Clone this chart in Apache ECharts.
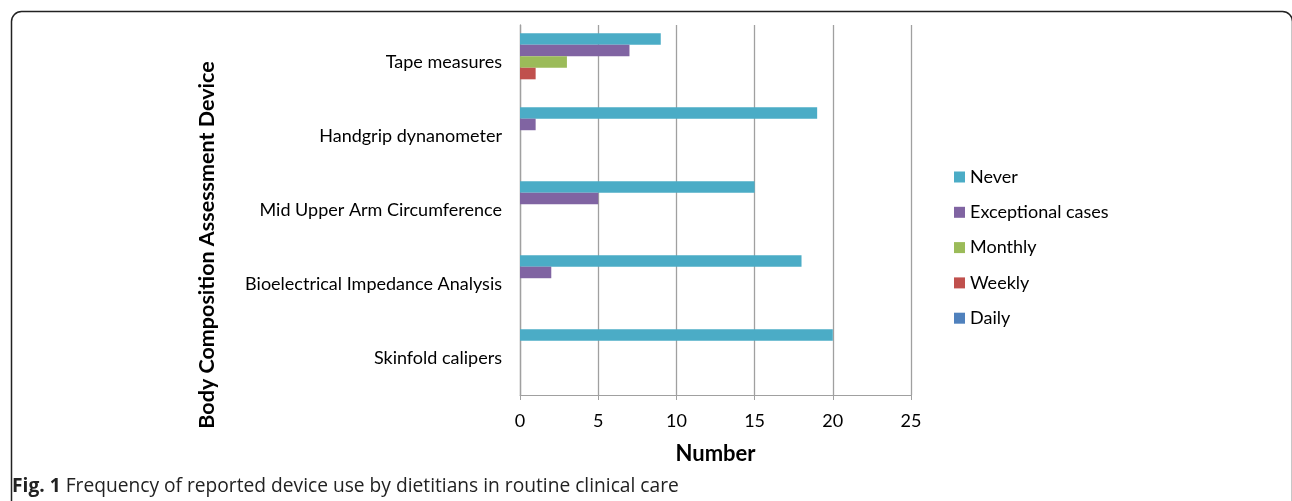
<!DOCTYPE html>
<html><head><meta charset="utf-8">
<script src="https://cdn.jsdelivr.net/npm/echarts@6/dist/echarts.min.js"></script>
<style>html,body{margin:0;padding:0;background:#fff;}#c{width:1292px;height:501px;}</style>
</head><body><div id="c"></div>
<script>
const categories = ['Tape measures', 'Handgrip dynanometer', 'Mid Upper Arm Circumference', 'Bioelectrical Impedance Analysis', 'Skinfold calipers'];
const seriesNames = ['Never', 'Exceptional cases', 'Monthly', 'Weekly', 'Daily'];
const never = [9, 19, 15, 18, 20];
const exceptional = [7, 1, 5, 2, 0];
const monthly = [3, 0, 0, 0, 0];
const weekly = [1, 0, 0, 0, 0];
const daily = [0, 0, 0, 0, 0];
const xTicks = [0, 5, 10, 15, 20, 25];
const yTitle = 'Body Composition Assessment Device';
const xTitle = 'Number';
const caption = 'Frequency of reported device use by dietitians in routine clinical care';
const colors = ['#4BACC6', '#8064A2', '#9BBB59', '#C0504D', '#4F81BD'];
const values = [never, exceptional, monthly, weekly, daily];

const chart = echarts.init(document.getElementById('c'));
const font = 'Lato, "Open Sans", sans-serif';
chart.setOption({
  animation: false,
  color: colors,
  grid: { left: 520, right: 381, top: 25, bottom: 106, containLabel: false },
  legend: {
    orient: 'vertical', left: 949, top: 162, itemGap: 15.3, itemWidth: 11, itemHeight: 11,
    icon: 'rect', data: seriesNames,
    textStyle: { fontFamily: font, fontSize: 18, lineHeight: 20, color: '#000', padding: [0, 0, 0, 0] }
  },
  xAxis: {
    type: 'value', min: xTicks[0], max: xTicks[xTicks.length - 1], interval: 5,
    name: xTitle, nameLocation: 'middle', nameGap: 48,
    nameTextStyle: { fontFamily: font, fontSize: 22, fontWeight: 'bold', color: '#000' },
    axisLine: { show: true, lineStyle: { color: '#a0a0a0', width: 1 } },
    axisTick: { show: true, length: 5, lineStyle: { color: '#a0a0a0' } },
    axisLabel: { fontFamily: font, fontSize: 18, color: '#000', margin: 17 },
    splitLine: { show: true, lineStyle: { color: '#a0a0a0', width: 1.3 } }
  },
  yAxis: {
    type: 'category', data: categories, inverse: true,
    axisLine: { show: true, lineStyle: { color: '#a0a0a0', width: 1.3 } },
    axisTick: { show: false },
    axisLabel: { fontFamily: font, fontSize: 18, color: '#000', margin: 18 }
  },
  series: seriesNames.map((n, i) => ({
    name: n, type: 'bar', data: values[i], barCategoryGap: '22%', barGap: '0%'
  })),
  graphic: [
    { type: 'rect', left: 9, top: 9, shape: { width: 1281, height: 620, r: 10 },
      style: { fill: 'none', stroke: '#222', lineWidth: 1.5 }, silent: true },
    { type: 'text', x: 207, y: 245, rotation: Math.PI / 2,
      style: { text: yTitle, fontFamily: font, fontSize: 21.5, fontWeight: 'bold', fill: '#000',
        align: 'center', verticalAlign: 'middle' } },
    { type: 'text', left: 12, top: 477,
      style: { text: '{b|Fig. 1} ' + caption,
        rich: { b: { fontWeight: 'bold', fontFamily: '"Open Sans", sans-serif', fontSize: 19.2, fill: '#222' } },
        fontFamily: '"Open Sans", sans-serif', fontSize: 19.2, fill: '#222' } }
  ]
});
</script></body></html>
